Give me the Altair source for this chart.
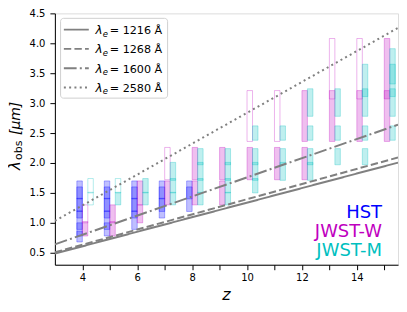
import altair as alt
import pandas as pd

# ---------------- data ----------------
Z_LIST = [4, 5, 6, 7, 8, 9, 10, 11, 12, 13, 14, 15]

INSTRUMENTS = ["HST", "JWST-W", "JWST-M"]
INST_COLORS = ["#0000ff", "#bf00bf", "#00bfbf"]

# filter wavelength edges [micron]
HST_FILTERS = {"F775W": (0.68, 0.86), "F850LP": (0.78, 1.00), "F105W": (0.89, 1.20),
               "F125W": (1.08, 1.41), "F140W": (1.19, 1.60), "F160W": (1.40, 1.70)}
JWSTW_FILTERS = {"F090W": (0.78, 1.02), "F115W": (1.00, 1.30), "F150W": (1.30, 1.70),
                 "F200W": (1.72, 2.26), "F277W": (2.36, 3.21), "F356W": (3.07, 4.08)}
JWSTM_FILTERS = {"F140M": (1.30, 1.51), "F162M": (1.50, 1.74), "F182M": (1.71, 2.01),
                 "F210M": (1.97, 2.24), "F250M": (2.38, 2.62), "F300M": (2.78, 3.24),
                 "F335M": (3.11, 3.65), "F360M": (3.32, 3.91)}

HST_FILLED = {4: ["F775W", "F850LP", "F105W", "F125W", "F140W", "F160W"],
              5: ["F850LP", "F105W", "F125W", "F140W", "F160W"],
              6: ["F105W", "F125W", "F140W", "F160W"],
              7: ["F125W", "F140W", "F160W"],
              8: ["F140W", "F160W"]}
HST_OPEN = {}

JWSTW_FILLED = {4: ["F090W"], 5: ["F090W", "F115W"], 6: ["F115W", "F150W"], 7: ["F150W"],
                8: ["F150W", "F200W"], 9: ["F150W", "F200W"], 10: ["F200W"], 11: ["F200W"],
                12: ["F200W", "F277W"], 13: ["F277W"], 14: ["F277W"], 15: ["F277W", "F356W"]}
JWSTW_OPEN = {4: ["F115W"], 7: ["F200W"], 10: ["F277W"], 11: ["F277W"],
              13: ["F356W"], 14: ["F356W"]}

JWSTM_FILLED = {5: ["F140M"], 6: ["F140M", "F162M"], 7: ["F140M", "F162M", "F182M"],
                8: ["F140M", "F162M", "F182M", "F210M"], 9: ["F140M", "F162M", "F182M", "F210M"],
                10: ["F162M", "F182M", "F210M", "F250M"], 11: ["F182M", "F210M", "F250M"],
                12: ["F182M", "F210M", "F250M", "F300M"], 13: ["F210M", "F250M", "F300M"],
                14: ["F210M", "F250M", "F300M", "F335M"], 15: ["F250M", "F300M", "F335M", "F360M"]}
JWSTM_OPEN = {4: ["F140M", "F162M"], 5: ["F162M"]}

# observed-wavelength lines, values at the two ends of the z range
LINE_LABELS = ["1216", "1268", "1600", "2580"]
LINE_Z = [3.0, 15.5]
LINE_START = [0.486, 0.507, 0.640, 1.032]
LINE_END = [2.006, 2.092, 2.640, 4.257]

X_TICKS = [4, 5, 6, 7, 8, 9, 10, 11, 12, 13, 14, 15]
Y_TICKS = [0.5, 1.0, 1.5, 2.0, 2.5, 3.0, 3.5, 4.0, 4.5]

# ---------------- build tables ----------------
shift = {"HST": -0.2, "JWST-W": 0.0, "JWST-M": 0.2}
width_z = 0.2
sets = [("HST", HST_FILTERS, HST_FILLED, HST_OPEN),
        ("JWST-W", JWSTW_FILTERS, JWSTW_FILLED, JWSTW_OPEN),
        ("JWST-M", JWSTM_FILTERS, JWSTM_FILLED, JWSTM_OPEN)]
rows = []
for inst, filt, filled, opened in sets:
    for style, table in (("filled", filled), ("open", opened)):
        for z, names in table.items():
            for n in names:
                lo, hi = filt[n]
                rows.append({"inst": inst, "filter": n, "z": z,
                             "x0": z + shift[inst], "x1": z + shift[inst] + width_z,
                             "lo": lo, "hi": hi, "style": style})
box_df = pd.DataFrame(rows)

line_rows = []
for lab, a, b in zip(LINE_LABELS, LINE_START, LINE_END):
    line_rows.append({"series": lab, "z": LINE_Z[0], "lam": a})
    line_rows.append({"series": lab, "z": LINE_Z[1], "lam": b})
line_df = pd.DataFrame(line_rows)

DASHES = [[1, 0], [7.4, 3.2], [12.8, 3.2, 2, 3.2], [2, 3.3]]
GRAY = "#808080"
FONT = "DejaVu Sans"

xscale = alt.Scale(domain=[3, 15.5], nice=False, zero=False)
yscale = alt.Scale(domain=[0.3, 4.5], nice=False, zero=False)
xaxis = alt.Axis(title="", values=X_TICKS, labelExpr="datum.value % 2 == 0 ? datum.label : ''",
                 grid=False, tickSize=5, labelPadding=3, labelFontSize=10, labelFont=FONT,
                 labelColor="black", tickColor="black", domainColor="black", labelFlush=False)
yaxis = alt.Axis(title="", values=Y_TICKS, format=".1f", grid=False, tickSize=5, labelPadding=5,
                 labelFontSize=10, labelFont=FONT, labelColor="black", tickColor="black",
                 domainColor="black", labelFlush=False)

boxes = alt.Chart(box_df).mark_rect(strokeWidth=1, strokeOpacity=0.3).encode(
    x=alt.X("x0:Q", scale=xscale, axis=xaxis),
    x2="x1:Q",
    y=alt.Y("lo:Q", scale=yscale, axis=yaxis),
    y2="hi:Q",
    fill=alt.Fill("inst:N", scale=alt.Scale(domain=INSTRUMENTS, range=INST_COLORS), legend=None),
    stroke=alt.Stroke("inst:N", scale=alt.Scale(domain=INSTRUMENTS, range=INST_COLORS), legend=None),
    fillOpacity=alt.FillOpacity("style:N", scale=alt.Scale(domain=["filled", "open"], range=[0.25, 0.0]),
                                legend=None),
)

lines = alt.Chart(line_df).mark_line(color=GRAY, strokeWidth=2, clip=True).encode(
    x=alt.X("z:Q", scale=xscale, axis=xaxis),
    y=alt.Y("lam:Q", scale=yscale, axis=yaxis),
    strokeDash=alt.StrokeDash("series:N", scale=alt.Scale(domain=LINE_LABELS, range=DASHES), legend=None),
)

one = pd.DataFrame({"a": [0]})
layers = [boxes, lines]

# legend box
layers.append(alt.Chart(one).mark_rect(fill="white", stroke="#cccccc", strokeWidth=1, cornerRadius=3,
                                       opacity=0.9).encode(
    x=alt.value(5.7), x2=alt.value(113), y=alt.value(5), y2=alt.value(85)))
row_y = [16.3, 35.6, 55.0, 74.3]
for lab, dash, yy in zip(LINE_LABELS, DASHES, row_y):
    layers.append(alt.Chart(one).mark_rule(color=GRAY, strokeWidth=2, strokeDash=dash).encode(
        x=alt.value(9), x2=alt.value(34), y=alt.value(yy)))
    layers.append(alt.Chart(one).mark_text(align="left", baseline="alphabetic", fontSize=12, font=FONT,
                                           fontStyle="italic", color="black").encode(
        x=alt.value(40.7), y=alt.value(yy + 4.5), text=alt.value("λ")))
    layers.append(alt.Chart(one).mark_text(align="left", baseline="alphabetic", fontSize=8.5, font=FONT,
                                           fontStyle="italic", color="black").encode(
        x=alt.value(48), y=alt.value(yy + 7), text=alt.value("e")))
    layers.append(alt.Chart(one).mark_text(align="left", baseline="alphabetic", fontSize=11.2, font=FONT,
                                           color="black").encode(
        x=alt.value(55), y=alt.value(yy + 4.5), text=alt.value("= " + lab + " Å")))

# instrument labels
for inst, col, yy in zip(INSTRUMENTS, INST_COLORS, [205, 224, 243.5]):
    layers.append(alt.Chart(one).mark_text(align="right", baseline="alphabetic", fontSize=18,
                                           font=FONT, color=col).encode(
        x=alt.value(328), y=alt.value(yy), text=alt.value(inst)))

# axis titles
layers.append(alt.Chart(one).mark_text(align="center", baseline="alphabetic", fontSize=16,
                                       font=FONT, fontStyle="italic", color="black").encode(
    x=alt.value(172), y=alt.value(287), text=alt.value("z")))
layers.append(alt.Chart(one).mark_text(align="left", baseline="alphabetic", fontSize=15, angle=270,
                                       font=FONT, fontStyle="italic", color="black").encode(
    x=alt.value(-35), y=alt.value(157), text=alt.value("λ")))
layers.append(alt.Chart(one).mark_text(align="left", baseline="alphabetic", fontSize=11, angle=270,
                                       font=FONT, color="black").encode(
    x=alt.value(-33), y=alt.value(147), text=alt.value("obs")))
layers.append(alt.Chart(one).mark_text(align="left", baseline="alphabetic", fontSize=14, angle=270,
                                       font=FONT, fontStyle="italic", color="black").encode(
    x=alt.value(-35), y=alt.value(122), text=alt.value("[μm]")))

chart = alt.layer(*layers).properties(
    width=344, height=252,
    autosize=alt.AutoSizeParams(type="none"),
    padding={"left": 47, "top": 5, "right": 1, "bottom": 39},
).configure_view(stroke="black", strokeWidth=1).configure(background="white")

chart.save("out.html", embed_options={"renderer": "svg", "actions": False})
